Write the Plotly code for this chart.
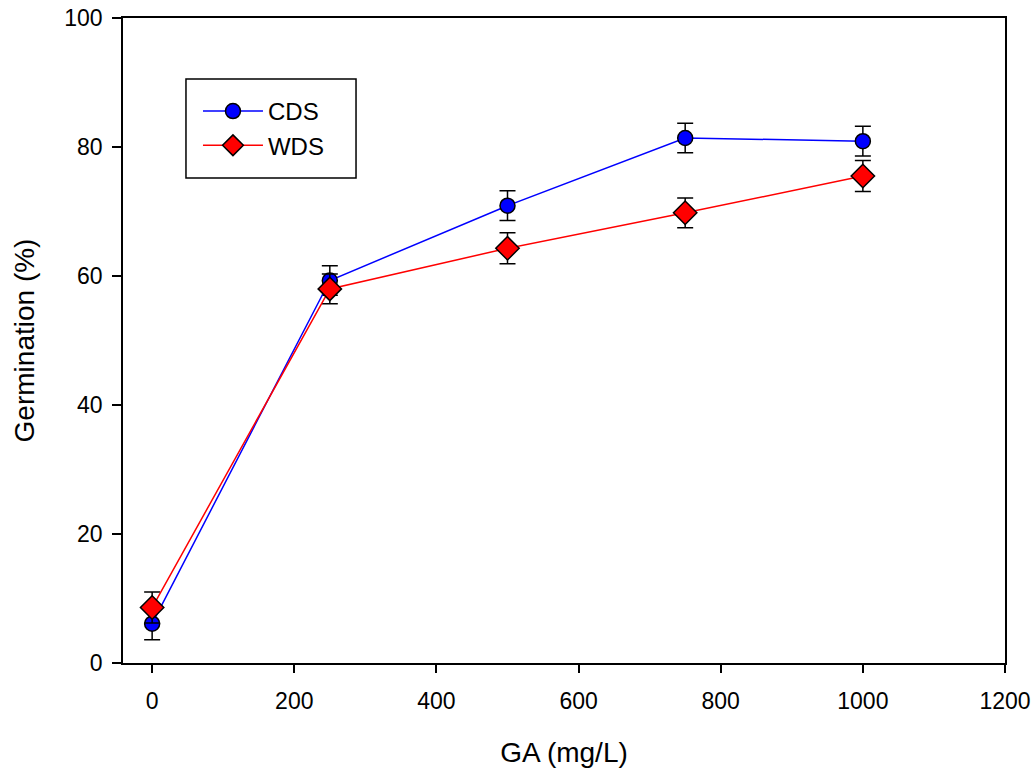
import plotly.graph_objects as go

ga = [0, 250, 500, 750, 1000]
cds = [6.1, 59.3, 70.9, 81.4, 80.9]
cds_err = [2.5, 2.3, 2.3, 2.3, 2.3]
wds = [8.6, 58.0, 64.3, 69.8, 75.5]
wds_err = [2.4, 2.3, 2.4, 2.3, 2.4]

fig = go.Figure()
fig.add_trace(go.Scatter(
    x=ga, y=cds, name="CDS", mode="lines+markers",
    line=dict(color="#0000ff", width=1.5),
    marker=dict(symbol="circle", size=15, color="#0000ff", line=dict(color="black", width=1.5)),
    error_y=dict(type="data", array=cds_err, visible=True, color="black", thickness=1.5, width=8),
))
fig.add_trace(go.Scatter(
    x=ga, y=wds, name="WDS", mode="lines+markers",
    line=dict(color="#ff0000", width=1.5),
    marker=dict(symbol="diamond", size=18, color="#ff0000", line=dict(color="black", width=1.5)),
    error_y=dict(type="data", array=wds_err, visible=True, color="black", thickness=1.5, width=8),
))

# legend frame
fig.add_shape(type="rect", xref="paper", yref="paper",
              x0=0.0714, x1=0.2642, y0=0.7519, y1=0.9054,
              line=dict(color="black", width=1.5), fillcolor="rgba(0,0,0,0)", layer="above")

fig.update_layout(
    width=1036, height=773,
    margin=dict(l=123, r=31, t=18, b=110, autoexpand=False),
    plot_bgcolor="white", paper_bgcolor="white",
    font=dict(family="Liberation Sans, Arial, sans-serif", size=23, color="black"),
    showlegend=True,
    legend=dict(
        x=0.085, y=0.890, xanchor="left", yanchor="top",
        borderwidth=0, bgcolor="rgba(0,0,0,0)",
        font=dict(size=24), itemwidth=60, tracegroupgap=4,
    ),
    xaxis=dict(
        range=[-41, 1200], tickmode="linear", tick0=0, dtick=200,
        ticks="outside", ticklen=8, tickwidth=1.5, tickcolor="black",
        showline=True, linecolor="black", linewidth=1.5, mirror=True,
        showgrid=False, zeroline=False, automargin=False,
        ticklabelstandoff=9, ticklabeloverflow="allow",
        title=dict(text="GA (mg/L)", font=dict(size=28), standoff=29),
    ),
    yaxis=dict(
        range=[0, 100], tickmode="linear", tick0=0, dtick=20,
        ticks="outside", ticklen=9, tickwidth=1.5, tickcolor="black",
        showline=True, linecolor="black", linewidth=1.5, mirror=True,
        showgrid=False, zeroline=False, automargin=False,
        ticklabelstandoff=5, ticklabeloverflow="allow",
        title=dict(text="Germination (%)", font=dict(size=28), standoff=21),
    ),
)

fig.write_html(
    "out.html",
    config={"displayModeBar": False},
    post_script="document.body.style.margin='0';document.body.style.overflow='hidden';",
)
